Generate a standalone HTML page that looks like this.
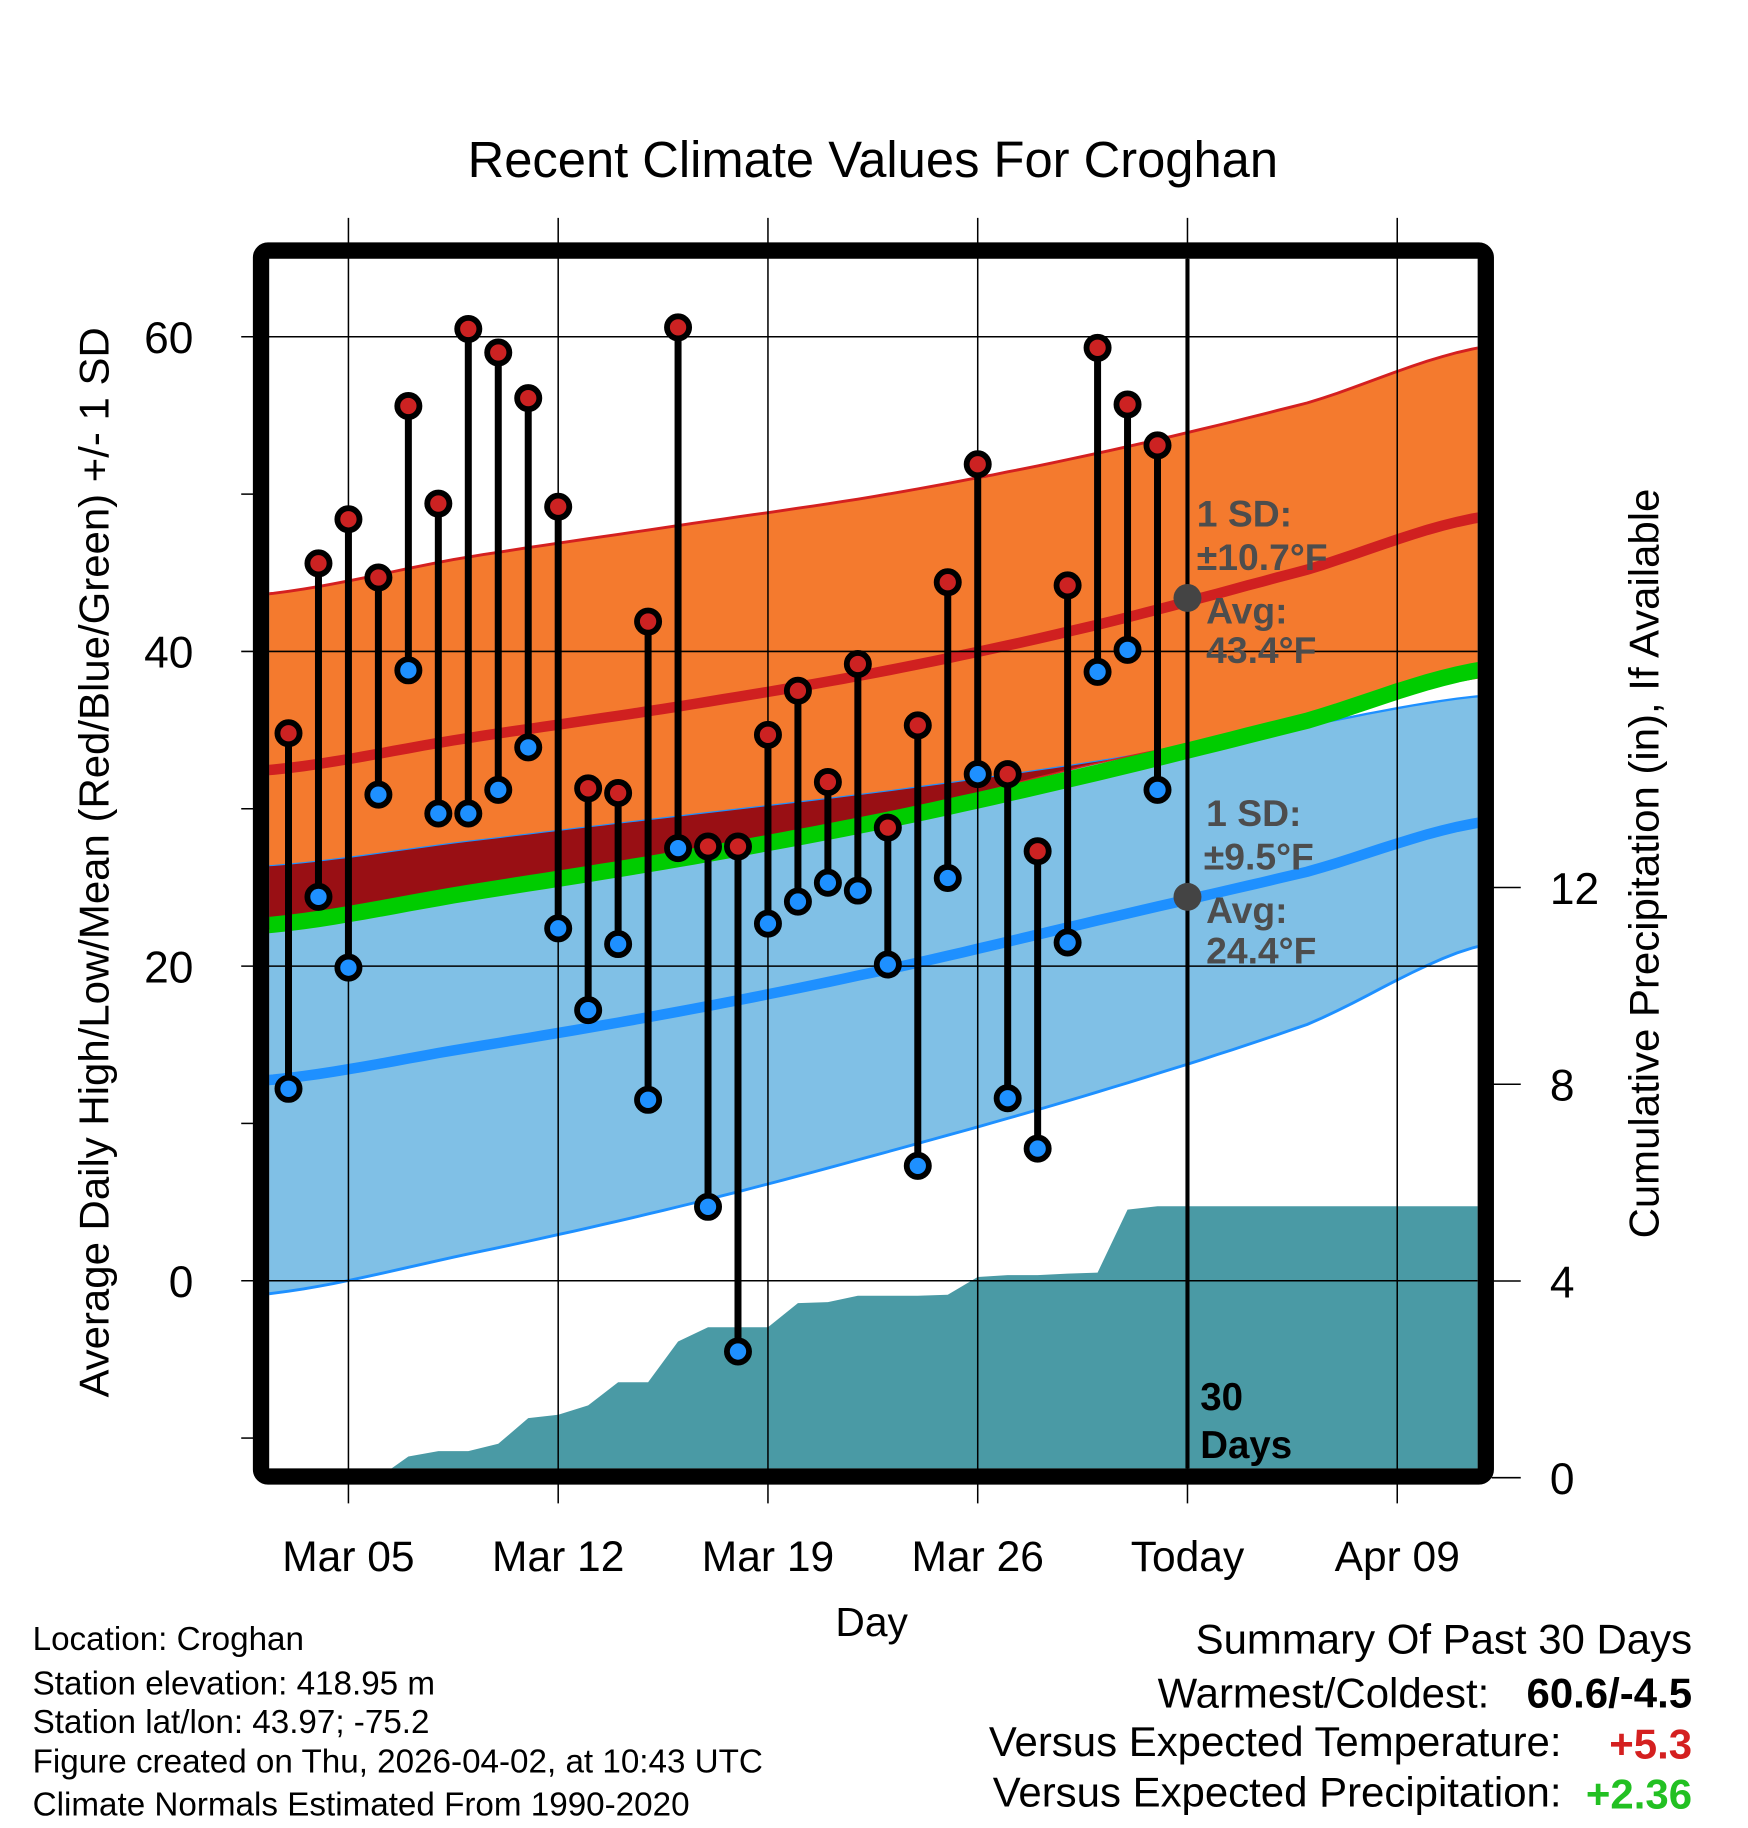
<!DOCTYPE html>
<html><head><meta charset="utf-8"><style>
html,body{margin:0;padding:0;background:#fff}
svg{display:block}
text{font-family:"Liberation Sans",Arial,sans-serif}
</style></head><body>
<svg id="chart" width="1748" height="1828" viewBox="0 0 1500 1568.6" preserveAspectRatio="none" xmlns="http://www.w3.org/2000/svg">
<defs><clipPath id="plotclip"><rect x="231" y="222" width="1037" height="1038"/></clipPath></defs>
<text x="749" y="152" font-size="43.5" text-anchor="middle">Recent Climate Values For Croghan</text>
<g id="plot" clip-path="url(#plotclip)"></g>
<g id="overlay"></g>
<text transform="translate(93,740) rotate(-90)" font-size="36" text-anchor="middle">Average Daily High/Low/Mean (Red/Blue/Green) +/- 1 SD</text>
<text transform="translate(1423,741) rotate(-90)" font-size="36" text-anchor="middle">Cumulative Precipitation (in), If Available</text>
<text x="748" y="1404" font-size="35" text-anchor="middle">Day</text>
<g font-size="28.5">
<text x="28" y="1416">Location: Croghan</text>
<text x="28" y="1454">Station elevation: 418.95 m</text>
<text x="28" y="1487">Station lat/lon: 43.97; -75.2</text>
<text x="28" y="1521">Figure created on Thu, 2026-04-02, at 10:43 UTC</text>
<text x="28" y="1558">Climate Normals Estimated From 1990-2020</text>
</g>
<g font-size="36">
<text x="1452" y="1419" text-anchor="end">Summary Of Past 30 Days</text>
<text x="1278" y="1465" text-anchor="end">Warmest/Coldest:</text>
<text x="1452" y="1465" text-anchor="end" font-weight="bold">60.6/-4.5</text>
<text x="1340" y="1507" text-anchor="end">Versus Expected Temperature:</text>
<text x="1452" y="1509" text-anchor="end" font-weight="bold" fill="#d42020">+5.3</text>
<text x="1340" y="1550" text-anchor="end">Versus Expected Precipitation:</text>
<text x="1452" y="1552" text-anchor="end" font-weight="bold" fill="#22c022">+2.36</text>
</g>
</svg>
<script>
// ---- data ----
const highs=[34.8,45.6,48.4,44.7,55.6,49.4,60.5,59.0,56.1,49.2,31.3,31.0,41.9,60.6,27.6,27.6,34.7,37.5,31.7,39.2,28.8,35.3,44.4,51.9,32.2,27.3,44.2,59.3,55.7,53.1];
const lows=[12.2,24.4,19.9,30.9,38.8,29.7,29.7,31.2,33.9,22.4,17.2,21.4,11.5,27.5,4.7,-4.5,22.7,24.1,25.3,24.8,20.1,7.3,25.6,32.2,11.6,8.4,21.5,38.7,40.1,31.2];
const precip=[0,0,0,0,0.43,0.54,0.54,0.69,1.21,1.28,1.47,1.94,1.94,2.77,3.06,3.06,3.06,3.55,3.57,3.7,3.7,3.7,3.72,4.08,4.12,4.12,4.15,4.17,5.45,5.52];
const normDays=[-3,4,11,18,25,32,38];
const normHigh=[32.4,34.5,36.5,38.8,41.7,45.2,48.6];
const normHighUpper=[43.6,46.0,48.0,50.0,52.6,55.8,59.4];
const normHighLower=[22.3,24.6,27.2,29.6,32.9,35.6,38.4];
const normLow=[12.7,14.8,17.1,19.8,22.9,26.0,29.2];
const normLowUpper=[26.3,27.9,29.5,31.1,33.0,35.3,37.2];
const normLowLower=[-0.9,1.7,4.7,8.2,12.0,16.3,21.4];
const xTickLabels=["Mar 05","Mar 12","Mar 19","Mar 26","Today","Apr 09"];
const yTicks=[60,40,20,0];
const yMinor=[50,30,10,-10];
const y2Ticks=[0,4,8,12];
const firstDay=-2; // Mar 03 relative to Mar 05
const todayDay=28;

// ---- axes ----
const X=d=>299+d*180/7;
const Y=v=>1099-v*13.5;
const Y2=p=>1268-p*42.2;
const NS="http://www.w3.org/2000/svg";
function mk(tag,attrs,parent){const e=document.createElementNS(NS,tag);for(const k in attrs)e.setAttribute(k,attrs[k]);parent.appendChild(e);return e;}
function interp(arr,d){
 const n=normDays.length;let i=0;
 while(i<n-2&&d>normDays[i+1])i++;
 const t=(d-normDays[i])/(normDays[i+1]-normDays[i]);
 const p0=arr[Math.max(i-1,0)],p1=arr[i],p2=arr[i+1],p3=arr[Math.min(i+2,n-1)];
 const t2=t*t,t3=t2*t;
 return 0.5*((2*p1)+(-p0+p2)*t+(2*p0-5*p1+4*p2-p3)*t2+(-p0+3*p1-3*p2+p3)*t3);
}
const samples=[];for(let d=-3;d<=38;d+=0.5)samples.push(d);
const line=arr=>samples.map(d=>X(d).toFixed(1)+","+Y(interp(arr,d)).toFixed(1)).join(" ");
const band=(a,b)=>line(a)+" "+samples.slice().reverse().map(d=>X(d).toFixed(1)+","+Y(interp(b,d)).toFixed(1)).join(" ");
const plot=document.getElementById('plot');
const ov=document.getElementById('overlay');
const svg=document.getElementById('chart');

let e;
e=mk('polygon',{points:band(normHighUpper,normHighLower),fill:'#f47a2e'},plot);


e=mk('polygon',{points:band(normLowUpper,normLowLower),fill:'#80c0e6'},plot);


const cp=mk('clipPath',{id:'lowclip'},svg);
mk('polygon',{points:band(normLowUpper,normLowLower)},cp);
mk('polyline',{points:line(normLowUpper),fill:'none',stroke:'#1e90ff','stroke-width':2},plot);
e=mk('polygon',{points:band(normHighUpper,normHighLower),fill:'#990f14','clip-path':'url(#lowclip)'},plot);


mk('polyline',{points:line(normHighUpper),fill:'none',stroke:'#d42020','stroke-width':2.5},plot);
mk('polyline',{points:line(normHighLower),fill:'none',stroke:'#d42020','stroke-width':1.5},plot);
mk('polyline',{points:line(normLowLower),fill:'none',stroke:'#1e90ff','stroke-width':2.5},plot);
const meanArr=normHigh.map((h,i)=>(h+normLow[i])/2);
e=mk('polyline',{points:line(meanArr),fill:'none',stroke:'#00cc00','stroke-width':14},plot);


e=mk('polyline',{points:line(normHigh),fill:'none',stroke:'#d02020','stroke-width':9},plot);


e=mk('polyline',{points:line(normLow),fill:'none',stroke:'#1e90ff','stroke-width':9},plot);



// precipitation
let pts=X(firstDay)+","+Y2(0);
precip.forEach((p,i)=>{pts+=" "+X(firstDay+i)+","+Y2(p);});
pts+=" 1270,"+Y2(precip[precip.length-1])+" 1270,1262 "+X(firstDay)+",1262";
e=mk('polygon',{points:pts,fill:'#4a9aa5'},plot);



// grid
xTickLabels.forEach((l,i)=>{const x=X(i*7);
 mk('line',{x1:x,y1:187,x2:x,y2:1290,stroke:'#000','stroke-width':1.3},ov);
 const t=mk('text',{x:x,y:1348,'font-size':36.5,'text-anchor':'middle'},ov);t.textContent=l;
 
 
});
yTicks.forEach(v=>{const y=Y(v);
 mk('line',{x1:207,y1:y,x2:1268,y2:y,stroke:'#000','stroke-width':1.3},ov);
 const t=mk('text',{x:166,y:y+14,'font-size':38,'text-anchor':'end'},ov);t.textContent=v;
 
 
});
yMinor.forEach(v=>{mk('line',{x1:207,y1:Y(v),x2:220,y2:Y(v),stroke:'#000','stroke-width':1.3},ov);});
y2Ticks.forEach(p=>{const y=Y2(p);
 mk('line',{x1:1280,y1:y,x2:1305,y2:y,stroke:'#000','stroke-width':1.3},ov);
 const t=mk('text',{x:1330,y:y+14,'font-size':38},ov);t.textContent=p;
 
 
});

// stems & markers
highs.forEach((h,i)=>{const x=X(firstDay+i);const l=lows[i];
 e=mk('line',{x1:x,y1:Y(h),x2:x,y2:Y(l),stroke:'#000','stroke-width':6},ov);
 
 
});
highs.forEach((h,i)=>{const x=X(firstDay+i);const l=lows[i];
 e=mk('circle',{cx:x,cy:Y(h),r:9.5,fill:'#cc2222',stroke:'#000','stroke-width':5},ov);
 
 
 e=mk('circle',{cx:x,cy:Y(l),r:9.5,fill:'#1e90ff',stroke:'#000','stroke-width':5},ov);
 
 
});

// today line
e=mk('line',{x1:X(todayDay),y1:222,x2:X(todayDay),y2:1260,stroke:'#000','stroke-width':3.5},ov);


mk('circle',{cx:X(todayDay),cy:Y(43.4),r:12,fill:'#444'},ov);
mk('circle',{cx:X(todayDay),cy:Y(24.4),r:12,fill:'#444'},ov);

// annotations
const ann=[["1 SD:",1027,452],["±10.7°F",1027,489],["Avg:",1035,535],["43.4°F",1035,569],
["1 SD:",1035,709],["±9.5°F",1033,746],["Avg:",1035,792],["24.4°F",1035,827]];
ann.forEach(a=>{const t=mk('text',{x:a[1],y:a[2],'font-size':32,'font-weight':'bold',fill:'#4d4d4d'},ov);t.textContent=a[0];
 
 
});
[["30",1030,1210],["Days",1030,1251]].forEach(a=>{const t=mk('text',{x:a[1],y:a[2],'font-size':33,'font-weight':'bold'},ov);t.textContent=a[0];
 
 
});

// frame
e=mk('rect',{x:224,y:215,width:1051,height:1052,rx:6,fill:'none',stroke:'#000','stroke-width':14},ov);


</script>
</body></html>
